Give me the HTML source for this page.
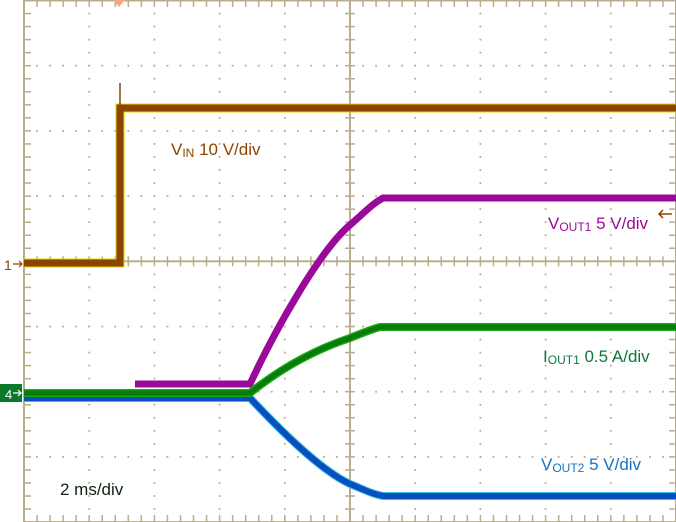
<!DOCTYPE html>
<html><head><meta charset="utf-8"><style>
html,body{margin:0;padding:0;background:#fff;}
#c{position:relative;width:676px;height:522px;overflow:hidden;font-family:"Liberation Sans",sans-serif;}
.l{position:absolute;font-size:17px;white-space:nowrap;}
.l sub{font-size:12px;vertical-align:baseline;position:relative;top:2px;}
</style></head><body><div id="c">
<svg id="s" width="676" height="522" style="position:absolute;left:0;top:0">
<g id="grid"></g>
<g id="tk" stroke="#b8ad8c" stroke-width="1.5"></g>
<polygon points="113,0 125,0 119,7" fill="#f7a77f"/>
<path d="M24,263 H120 V108 H676" stroke="#e0d400" stroke-width="9" fill="none"/>
<path d="M24,263 H120 V108 H676" stroke="#8b4500" stroke-width="7" fill="none"/>
<path d="M120,108 V83" stroke="#8b4500" stroke-width="1.5"/>
<path d="M135,384 H250 C275,330 320,250 350,225 C365,212 372,204 383,198 H676" stroke="#9a0a9a" stroke-width="7" fill="none"/>
<path d="M24,398 H250 C280,430 320,470 350,484 C365,490 372,494 383,496 H676" stroke="#33c0e0" stroke-width="8" fill="none"/>
<path d="M24,398 H250 C280,430 320,470 350,484 C365,490 372,494 383,496 H676" stroke="#0a4fc0" stroke-width="6" fill="none"/>
<path d="M24,393 H250 C285,365 320,348 350,338 C365,332 372,329 380,327 H676" stroke="#11aa11" stroke-width="8" fill="none"/>
<path d="M24,393 H250 C285,365 320,348 350,338 C365,332 372,329 380,327 H676" stroke="#0a7a0a" stroke-width="5" fill="none"/>
<rect x="0" y="384" width="22" height="18" fill="#0a7a2a"/>
<text x="5" y="399" font-size="13" fill="#fff" font-family="Liberation Sans">4</text>
<path d="M13,393 H21 M18,390 L21,393 L18,396" stroke="#fff" stroke-width="1.2" fill="none"/>
<text x="4" y="270" font-size="14" fill="#8b4500" font-family="Liberation Sans">1</text>
<path d="M13,264 H22 M19,261 L22,264 L19,267" stroke="#8b4500" stroke-width="1.2" fill="none"/>
<path d="M659,214 H672 M663,210 L659,214 L663,218" stroke="#8b4500" stroke-width="1.5" fill="none"/>
</svg>
<div class="l" style="left:171px;top:140px;color:#8b4500">V<sub>IN</sub> 10 V/div</div>
<div class="l" style="left:548px;top:214px;color:#9a0a9a">V<sub>OUT1</sub> 5 V/div</div>
<div class="l" style="left:543px;top:347px;color:#0a7a3a">I<sub>OUT1</sub> 0.5 A/div</div>
<div class="l" style="left:541px;top:455px;color:#1a70c0">V<sub>OUT2</sub> 5 V/div</div>
<div class="l" style="left:60px;top:480px;color:#112211">2 ms/div</div>
</div>
<script>
var g=document.getElementById('grid'),h='',C='#b8ad8c',L=24,T=0.5,D=65.2;
for(var i=0;i<=10;i++){var x=L+i*D;
 for(var j=0;j<=40;j++){var y=T+j*D/5;if(i>0&&i<10&&i!=5)h+='<rect x="'+(x-0.9)+'" y="'+(y-0.9)+'" width="1.8" height="1.8" fill="'+C+'"/>';}}
for(var j=0;j<=8;j++){var y=T+j*D;
 for(var i=0;i<=50;i++){var x=L+i*D/5;if(j>0&&j<8&&j!=4)h+='<rect x="'+(x-0.9)+'" y="'+(y-0.9)+'" width="1.8" height="1.8" fill="'+C+'"/>';}}
h+='<rect x="'+L+'" y="'+T+'" width="'+(10*D)+'" height="'+(8*D)+'" fill="none" stroke="'+C+'" stroke-width="2"/>';
h+='<rect x="'+(L+5*D-1)+'" y="0" width="2" height="522" fill="'+C+'"/>';
h+='<rect x="'+L+'" y="'+(T+4*D-1)+'" width="652" height="2" fill="'+C+'"/>';
for(var i=0;i<=50;i++){var x=L+i*D/5,cy=T+4*D;
 h+='<rect x="'+(x-0.75)+'" y="'+(cy-5)+'" width="1.5" height="10" fill="'+C+'"/>';
 h+='<rect x="'+(x-0.75)+'" y="0" width="1.5" height="7" fill="'+C+'"/>';
 h+='<rect x="'+(x-0.75)+'" y="515" width="1.5" height="7" fill="'+C+'"/>';}
for(var j=0;j<=40;j++){var y=T+j*D/5,cx=L+5*D;
 h+='<rect x="'+(cx-5)+'" y="'+(y-0.75)+'" width="10" height="1.5" fill="'+C+'"/>';
 h+='<rect x="'+L+'" y="'+(y-0.75)+'" width="7" height="1.5" fill="'+C+'"/>';
 h+='<rect x="669" y="'+(y-0.75)+'" width="7" height="1.5" fill="'+C+'"/>';}
g.innerHTML=h;
</script>
</body></html>
